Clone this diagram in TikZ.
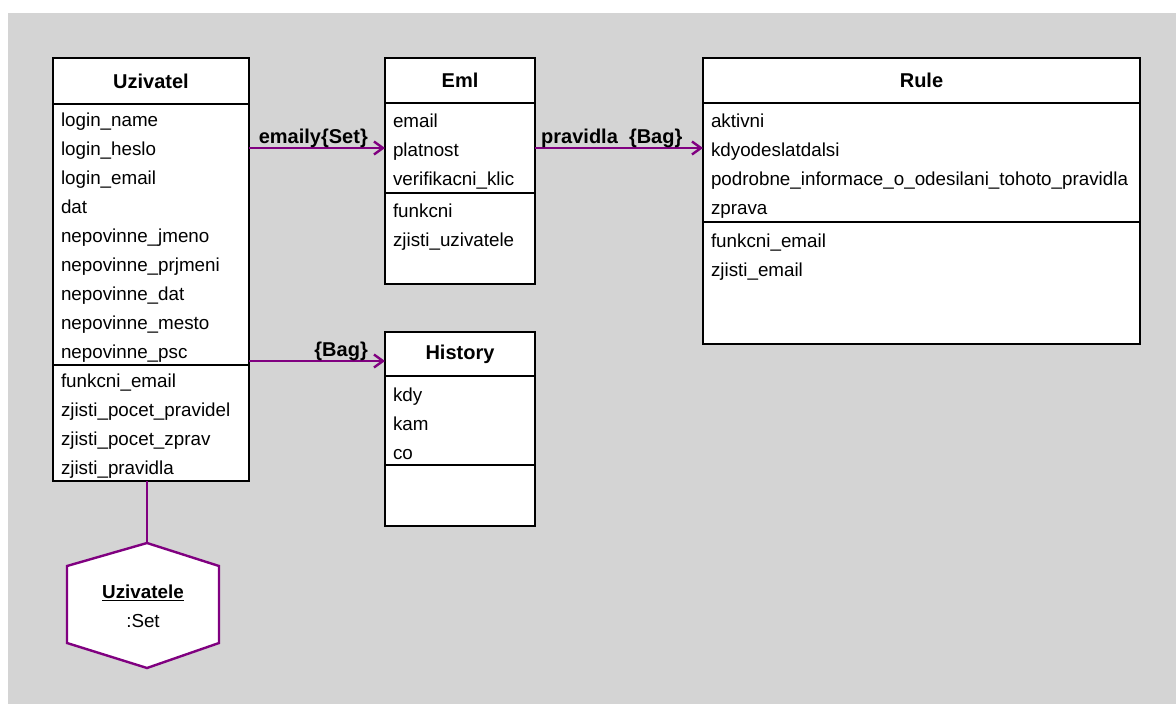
\documentclass[tikz,border=0pt]{standalone}
\usepackage{fontspec}
\setmainfont{Liberation Sans}
\usetikzlibrary{calc,positioning,arrows.meta}

\definecolor{bggray}{HTML}{D4D4D4}
\definecolor{umlpurple}{HTML}{800080}

\tikzset{
    clshead/.style={draw, line width=2.5pt, fill=white, inner sep=0pt, outer sep=0pt,
        font=\fontsize{20}{29}\selectfont\bfseries},
    clsbody/.style={draw, line width=2.5pt, fill=white, inner xsep=8pt, inner ysep=0pt,
        outer sep=0pt, align=left, font=\fontsize{18.8}{29}\selectfont,
        execute at begin node=\rule{0pt}{20pt}},
    assoc/.style={umlpurple, line width=2.4pt, -{Straight Barb[length=9pt, width=13pt]}},
    assoclbl/.style={text=black, font=\fontsize{20}{24}\selectfont\bfseries, inner sep=1pt},
    collbox/.style={draw=umlpurple, line width=2.4pt, fill=white},
}

\begin{document}
\begin{tikzpicture}[x=1pt, y=-1pt]
    \useasboundingbox (0,0) rectangle (1176,704);
    \fill[bggray] (8,13) rectangle (1176,704);

    % Uzivatel
    \node[clshead, minimum width=196pt, minimum height=46pt] (uzHead) at (151,81) {Uzivatel};
        \node[clsbody, text width=180pt, minimum height=261pt, below=0pt of uzHead] (uzAttr)
            {login\_name\\login\_heslo\\login\_email\\dat\\nepovinne\_jmeno\\nepovinne\_prjmeni\\nepovinne\_dat\\nepovinne\_mesto\\nepovinne\_psc};
        \node[clsbody, text width=180pt, minimum height=116pt, below=0pt of uzAttr] (uzMeth)
            {funkcni\_email\\zjisti\_pocet\_pravidel\\zjisti\_pocet\_zprav\\zjisti\_pravidla};

    % Eml
    \node[clshead, minimum width=150pt, minimum height=45pt] (emlHead) at (460,80.5) {Eml};
        \node[clsbody, text width=134pt, minimum height=90pt, below=0pt of emlHead] (emlAttr)
            {email\\platnost\\verifikacni\_klic};
        \node[clsbody, text width=134pt, minimum height=91pt, below=0pt of emlAttr] (emlMeth)
            {funkcni\\zjisti\_uzivatele\\\phantom{Xg}};

    % History
    \node[clshead, minimum width=150pt, minimum height=44pt] (histHead) at (460,354) {History};
        \node[clsbody, text width=134pt, minimum height=89pt, below=0pt of histHead] (histAttr)
            {kdy\\kam\\co};
        \node[clsbody, text width=134pt, minimum height=61pt, below=0pt of histAttr] (histMeth) {};

    % Rule
    \node[clshead, minimum width=437pt, minimum height=45pt] (ruleHead) at (921.5,80.5) {Rule};
        \node[clsbody, text width=421pt, minimum height=119pt, below=0pt of ruleHead] (ruleAttr)
            {aktivni\\kdyodeslatdalsi\\podrobne\_informace\_o\_odesilani\_tohoto\_pravidla\\zprava};
        \node[clsbody, text width=421pt, minimum height=122pt, below=0pt of ruleAttr] (ruleMeth)
            {funkcni\_email\\zjisti\_email\\\phantom{Xg}\\\phantom{Xg}};

    % collection Uzivatele
    \coordinate (collC) at (143,606);
    \coordinate (collTop) at ($(collC)+(4,-63)$);
    \draw[collbox] (collTop) -- ($(collC)+(76,-40)$) -- ($(collC)+(76,37)$)
        -- ($(collC)+(4,62)$) -- ($(collC)+(-76,37)$) -- ($(collC)+(-76,-40)$) -- cycle;
    \node[align=center, font=\fontsize{18.8}{29}\selectfont] (coll) at (collC)
        {\underline{\textbf{Uzivatele}}\\:Set};

    \coordinate (histIn) at ($(histHead.west)+(0,7)$);
    \draw[assoc] (uzAttr.east |- emlAttr.west) -- (emlAttr.west)
        node[assoclbl, anchor=south east, xshift=-15pt, yshift=-2pt] {emaily\{Set\}};
    \draw[assoc] (emlAttr.east) -- (ruleAttr.west |- emlAttr.east)
        node[assoclbl, pos=0, anchor=south west, xshift=4pt, yshift=-2pt] {pravidla~~\{Bag\}};
    \draw[assoc] (uzAttr.east |- histIn) -- (histIn)
        node[assoclbl, anchor=south east, xshift=-15pt, yshift=-2pt] {\{Bag\}};
    \draw[umlpurple, line width=2.4pt] (uzMeth.south -| collTop) -- (collTop);
\end{tikzpicture}
\end{document}
